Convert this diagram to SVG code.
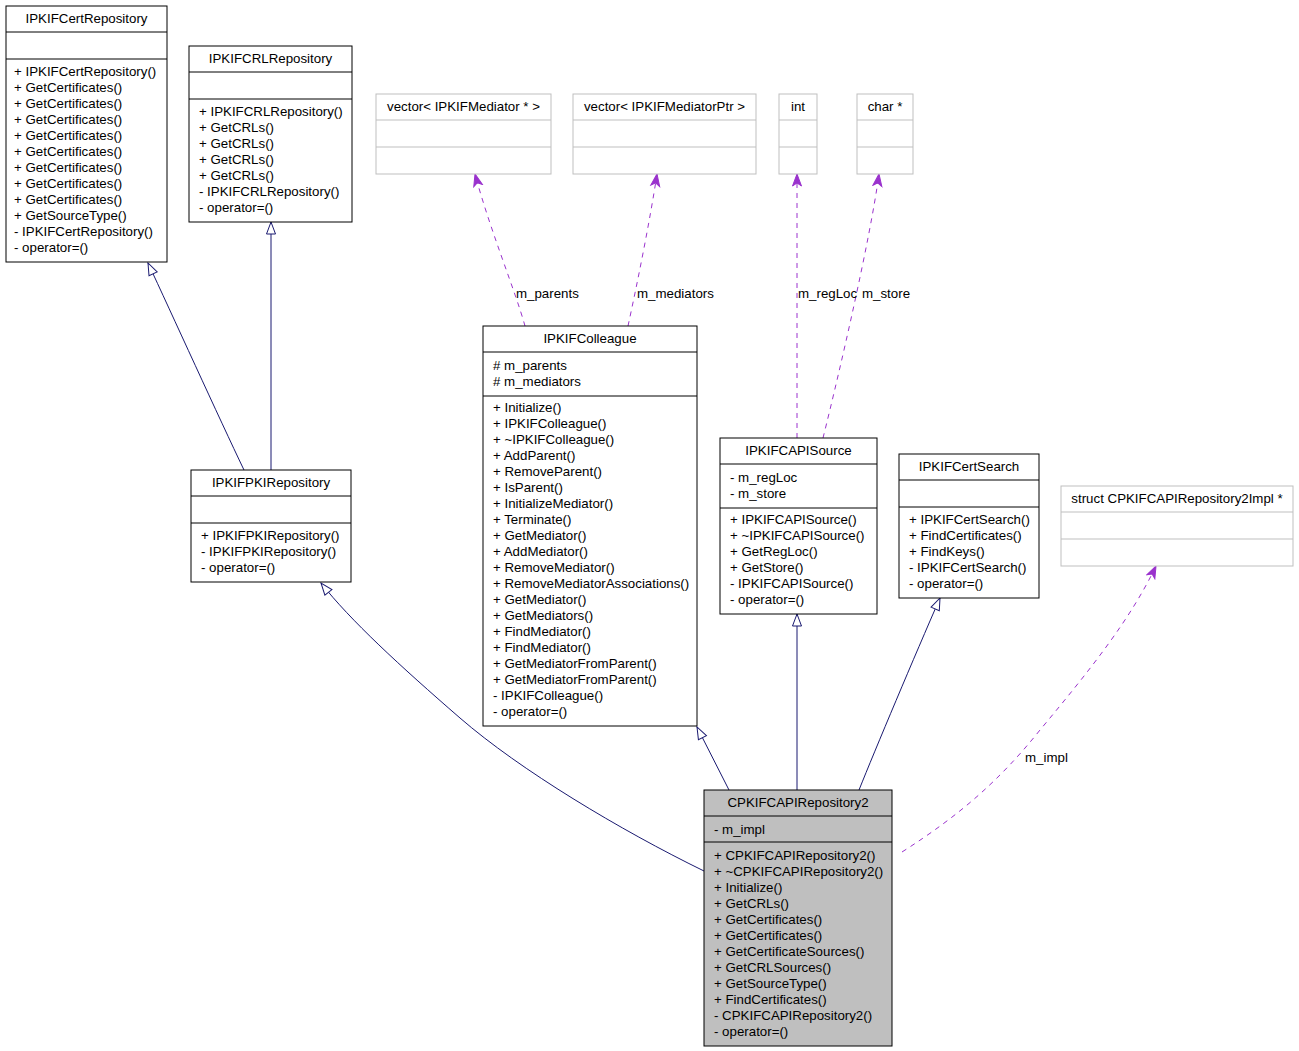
<svg xmlns="http://www.w3.org/2000/svg" width="1299" height="1051" viewBox="0 0 1299 1051">
<style>
text{font-family:"Liberation Sans",Arial,sans-serif;font-size:13.3px;fill:#000}
.t{text-anchor:middle}
.box rect{fill:#fff;stroke:#000;stroke-width:1}
.box line{stroke:#000;stroke-width:1}
.ext rect{fill:#fff;stroke:#bfbfbf;stroke-width:1}
.ext line{stroke:#bfbfbf;stroke-width:1}
.main rect{fill:#bfbfbf}
.inh{fill:none;stroke:#191970;stroke-width:1;marker-end:url(#tri)}
.use{fill:none;stroke:#9a32cd;stroke-width:1;stroke-dasharray:5,5;marker-end:url(#vee)}
</style>
<defs>
<marker id="tri" markerUnits="userSpaceOnUse" viewBox="-1 -6 14 12" refX="12" refY="0" markerWidth="14" markerHeight="12" orient="auto">
<path d="M0,-4.5 L12,0 L0,4.5 Z" fill="#fff" stroke="#191970" stroke-width="1"/>
</marker>
<marker id="vee" markerUnits="userSpaceOnUse" viewBox="-1 -6 14 12" refX="12" refY="0" markerWidth="14" markerHeight="12" orient="auto">
<path d="M0,-4.5 L12,0 L0,4.5 L3,0 Z" fill="#9a32cd" stroke="#9a32cd" stroke-width="1"/>
</marker>
</defs>
<rect width="1299" height="1051" fill="#fff"/>

<g id="connectors">
<path class="inh" d="M244,470 C220,420 170,310 148,263"/>
<path class="inh" d="M271,470 L271,222"/>
<path class="inh" d="M704,871 C620,830 520,770 460,718 C400,666 350,620 321,583"/>
<path class="inh" d="M729,790 L697,727"/>
<path class="inh" d="M797,790 L797,614"/>
<path class="inh" d="M859,790 C875,750 915,655 940,598"/>
<path class="use" d="M525,326 C515,290 490,230 475,174"/>
<path class="use" d="M628,326 C638,280 650,220 657,174"/>
<path class="use" d="M797,438 L797,174"/>
<path class="use" d="M823,438 C840,370 870,240 879,174"/>
<path class="use" d="M902,852 C960,815 1000,780 1040,730 C1090,670 1130,620 1156,566"/>
<text x="516" y="298">m_parents</text>
<text x="637" y="298">m_mediators</text>
<text x="798" y="298">m_regLoc</text>
<text x="862" y="298">m_store</text>
<text x="1025" y="762">m_impl</text>
</g>

<g id="IPKIFCertRepository" class="box">
<rect x="6" y="6" width="161" height="256"/>
<line x1="6" y1="32" x2="167" y2="32"/>
<line x1="6" y1="59" x2="167" y2="59"/>
<text class="t" x="86.5" y="23">IPKIFCertRepository</text>
<text x="14" y="76">+ IPKIFCertRepository()</text>
<text x="14" y="92">+ GetCertificates()</text>
<text x="14" y="108">+ GetCertificates()</text>
<text x="14" y="124">+ GetCertificates()</text>
<text x="14" y="140">+ GetCertificates()</text>
<text x="14" y="156">+ GetCertificates()</text>
<text x="14" y="172">+ GetCertificates()</text>
<text x="14" y="188">+ GetCertificates()</text>
<text x="14" y="204">+ GetCertificates()</text>
<text x="14" y="220">+ GetSourceType()</text>
<text x="14" y="236">- IPKIFCertRepository()</text>
<text x="14" y="252">- operator=()</text>
</g>

<g id="IPKIFCRLRepository" class="box">
<rect x="189" y="46" width="163" height="176"/>
<line x1="189" y1="72" x2="352" y2="72"/>
<line x1="189" y1="99" x2="352" y2="99"/>
<text class="t" x="270.5" y="63">IPKIFCRLRepository</text>
<text x="199" y="116">+ IPKIFCRLRepository()</text>
<text x="199" y="132">+ GetCRLs()</text>
<text x="199" y="148">+ GetCRLs()</text>
<text x="199" y="164">+ GetCRLs()</text>
<text x="199" y="180">+ GetCRLs()</text>
<text x="199" y="196">- IPKIFCRLRepository()</text>
<text x="199" y="212">- operator=()</text>
</g>

<g id="vecMediator" class="ext">
<rect x="376" y="94" width="175" height="80"/>
<line x1="376" y1="120" x2="551" y2="120"/>
<line x1="376" y1="147" x2="551" y2="147"/>
<text class="t" x="463.5" y="111">vector&lt; IPKIFMediator * &gt;</text>
</g>

<g id="vecMediatorPtr" class="ext">
<rect x="573" y="94" width="183" height="80"/>
<line x1="573" y1="120" x2="756" y2="120"/>
<line x1="573" y1="147" x2="756" y2="147"/>
<text class="t" x="664.5" y="111">vector&lt; IPKIFMediatorPtr &gt;</text>
</g>

<g id="int" class="ext">
<rect x="779" y="94" width="38" height="80"/>
<line x1="779" y1="120" x2="817" y2="120"/>
<line x1="779" y1="147" x2="817" y2="147"/>
<text class="t" x="798" y="111">int</text>
</g>

<g id="charptr" class="ext">
<rect x="857" y="94" width="56" height="80"/>
<line x1="857" y1="120" x2="913" y2="120"/>
<line x1="857" y1="147" x2="913" y2="147"/>
<text class="t" x="885" y="111">char *</text>
</g>

<g id="IPKIFColleague" class="box">
<rect x="483" y="326" width="214" height="400"/>
<line x1="483" y1="352" x2="697" y2="352"/>
<line x1="483" y1="396" x2="697" y2="396"/>
<text class="t" x="590" y="343">IPKIFColleague</text>
<text x="493" y="370"># m_parents</text>
<text x="493" y="386"># m_mediators</text>
<text x="493" y="412">+ Initialize()</text>
<text x="493" y="428">+ IPKIFColleague()</text>
<text x="493" y="444">+ ~IPKIFColleague()</text>
<text x="493" y="460">+ AddParent()</text>
<text x="493" y="476">+ RemoveParent()</text>
<text x="493" y="492">+ IsParent()</text>
<text x="493" y="508">+ InitializeMediator()</text>
<text x="493" y="524">+ Terminate()</text>
<text x="493" y="540">+ GetMediator()</text>
<text x="493" y="556">+ AddMediator()</text>
<text x="493" y="572">+ RemoveMediator()</text>
<text x="493" y="588">+ RemoveMediatorAssociations()</text>
<text x="493" y="604">+ GetMediator()</text>
<text x="493" y="620">+ GetMediators()</text>
<text x="493" y="636">+ FindMediator()</text>
<text x="493" y="652">+ FindMediator()</text>
<text x="493" y="668">+ GetMediatorFromParent()</text>
<text x="493" y="684">+ GetMediatorFromParent()</text>
<text x="493" y="700">- IPKIFColleague()</text>
<text x="493" y="716">- operator=()</text>
</g>

<g id="IPKIFCAPISource" class="box">
<rect x="720" y="438" width="157" height="176"/>
<line x1="720" y1="464" x2="877" y2="464"/>
<line x1="720" y1="508" x2="877" y2="508"/>
<text class="t" x="798.5" y="455">IPKIFCAPISource</text>
<text x="730" y="482">- m_regLoc</text>
<text x="730" y="498">- m_store</text>
<text x="730" y="524">+ IPKIFCAPISource()</text>
<text x="730" y="540">+ ~IPKIFCAPISource()</text>
<text x="730" y="556">+ GetRegLoc()</text>
<text x="730" y="572">+ GetStore()</text>
<text x="730" y="588">- IPKIFCAPISource()</text>
<text x="730" y="604">- operator=()</text>
</g>

<g id="IPKIFCertSearch" class="box">
<rect x="899" y="454" width="140" height="144"/>
<line x1="899" y1="480" x2="1039" y2="480"/>
<line x1="899" y1="507" x2="1039" y2="507"/>
<text class="t" x="969" y="471">IPKIFCertSearch</text>
<text x="909" y="524">+ IPKIFCertSearch()</text>
<text x="909" y="540">+ FindCertificates()</text>
<text x="909" y="556">+ FindKeys()</text>
<text x="909" y="572">- IPKIFCertSearch()</text>
<text x="909" y="588">- operator=()</text>
</g>

<g id="structImpl" class="ext">
<rect x="1061" y="486" width="232" height="80"/>
<line x1="1061" y1="512" x2="1293" y2="512"/>
<line x1="1061" y1="539" x2="1293" y2="539"/>
<text class="t" x="1177" y="503">struct CPKIFCAPIRepository2Impl *</text>
</g>

<g id="IPKIFPKIRepository" class="box">
<rect x="191" y="470" width="160" height="112"/>
<line x1="191" y1="496" x2="351" y2="496"/>
<line x1="191" y1="523" x2="351" y2="523"/>
<text class="t" x="271" y="487">IPKIFPKIRepository</text>
<text x="201" y="540">+ IPKIFPKIRepository()</text>
<text x="201" y="556">- IPKIFPKIRepository()</text>
<text x="201" y="572">- operator=()</text>
</g>

<g id="CPKIFCAPIRepository2" class="box main">
<rect x="704" y="790" width="188" height="256"/>
<line x1="704" y1="816" x2="892" y2="816"/>
<line x1="704" y1="842" x2="892" y2="842"/>
<text class="t" x="798" y="807">CPKIFCAPIRepository2</text>
<text x="714" y="834">- m_impl</text>
<text x="714" y="860">+ CPKIFCAPIRepository2()</text>
<text x="714" y="876">+ ~CPKIFCAPIRepository2()</text>
<text x="714" y="892">+ Initialize()</text>
<text x="714" y="908">+ GetCRLs()</text>
<text x="714" y="924">+ GetCertificates()</text>
<text x="714" y="940">+ GetCertificates()</text>
<text x="714" y="956">+ GetCertificateSources()</text>
<text x="714" y="972">+ GetCRLSources()</text>
<text x="714" y="988">+ GetSourceType()</text>
<text x="714" y="1004">+ FindCertificates()</text>
<text x="714" y="1020">- CPKIFCAPIRepository2()</text>
<text x="714" y="1036">- operator=()</text>
</g>
</svg>
